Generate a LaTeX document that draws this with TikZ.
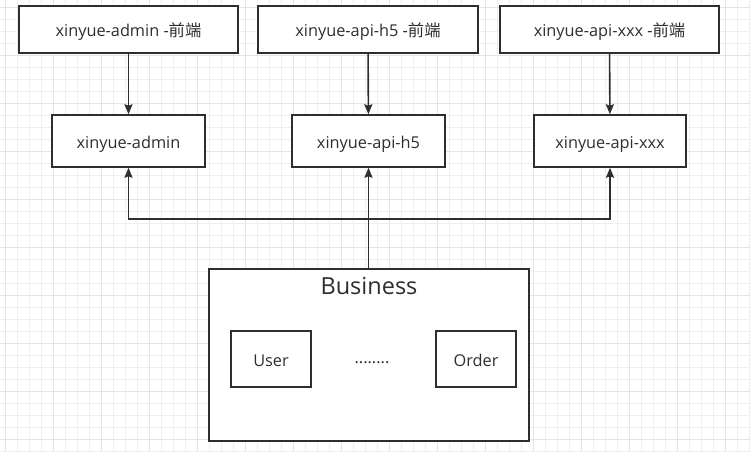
\documentclass[tikz,border=0pt]{standalone}
\usepackage{fontspec}
\setmainfont{Open Sans}
\newfontfamily\cjk{Noto Sans CJK SC}
\usetikzlibrary{arrows.meta}
\definecolor{ink}{HTML}{2E2E2E}
\definecolor{gridminor}{HTML}{EFEFEF}
\definecolor{gridmajor}{HTML}{E4E4E4}
\tikzset{
  box/.style={draw=ink, line width=1.5pt, fill=white, text=ink, inner sep=0pt,
    text height=14pt, text depth=0pt, font=\fontsize{16.3}{19}\selectfont},
  lbl/.style={text=ink, inner sep=0pt, font=\fontsize{16.3}{19}\selectfont},
  arr/.style={draw=ink, line width=1.6pt, -{Stealth[length=10pt,width=8pt,inset=1.5pt]}},
}
\begin{document}
\begin{tikzpicture}[x=1pt,y=-1pt]
\useasboundingbox (0,0) rectangle (750,451);
\fill[white] (0,0) rectangle (750,451);
% grid
\foreach \i in {0,...,62} {
  \draw[gridminor, line width=0.9pt] ({5.3+12*\i},0) -- ({5.3+12*\i},451);
}
\foreach \j in {0,...,37} {
  \draw[gridminor, line width=0.9pt] (0,{7.3+12*\j}) -- (750,{7.3+12*\j});
}
\foreach \i in {0,...,15} {
  \draw[gridmajor, line width=0.9pt] ({5.3+48*\i},0) -- ({5.3+48*\i},451);
}
\foreach \j in {0,...,9} {
  \draw[gridmajor, line width=0.9pt] (0,{7.3+48*\j}) -- (750,{7.3+48*\j});
}
% top boxes
\node[box, minimum width=219pt, minimum height=47pt] (fa) at (128.5,29.5) {xinyue-admin -{\cjk 前端}};
\node[box, minimum width=220pt, minimum height=47pt] (fh) at (368,29.5) {xinyue-api-h5 -{\cjk 前端}};
\node[box, minimum width=219pt, minimum height=47pt] (fx) at (609.5,29.5) {xinyue-api-xxx -{\cjk 前端}};
% middle boxes
\node[box, minimum width=153pt, minimum height=52pt] (admin) at (128.5,141) {xinyue-admin};
\node[box, minimum width=153pt, minimum height=52pt] (h5) at (368.5,141) {xinyue-api-h5};
\node[box, minimum width=152pt, minimum height=52pt] (xxx) at (610,141) {xinyue-api-xxx};
% business
\node[box, minimum width=320pt, minimum height=172pt] (biz) at (369,355) {};
\node[lbl, font=\fontsize{23.5}{28}\selectfont] (biztitle) at (369,286) {Business};
\node[box, minimum width=80pt, minimum height=56pt] (user) at (271,359) {User};
\node[box, minimum width=80pt, minimum height=56pt] (order) at (476,359) {Order};
\node[lbl] (dots) at (372,363) {........};
% connectors
\draw[arr] (fa) -- (admin);
\draw[arr] (fh) -- (h5);
\draw[arr] (fx) -- (xxx);
\coordinate (j) at (368.5,219);
\draw[arr] (biz.north -| h5.south) -- (h5.south);
\draw[arr] (j) -| (admin.south);
\draw[arr] (j) -| (xxx.south);
\end{tikzpicture}
\end{document}
